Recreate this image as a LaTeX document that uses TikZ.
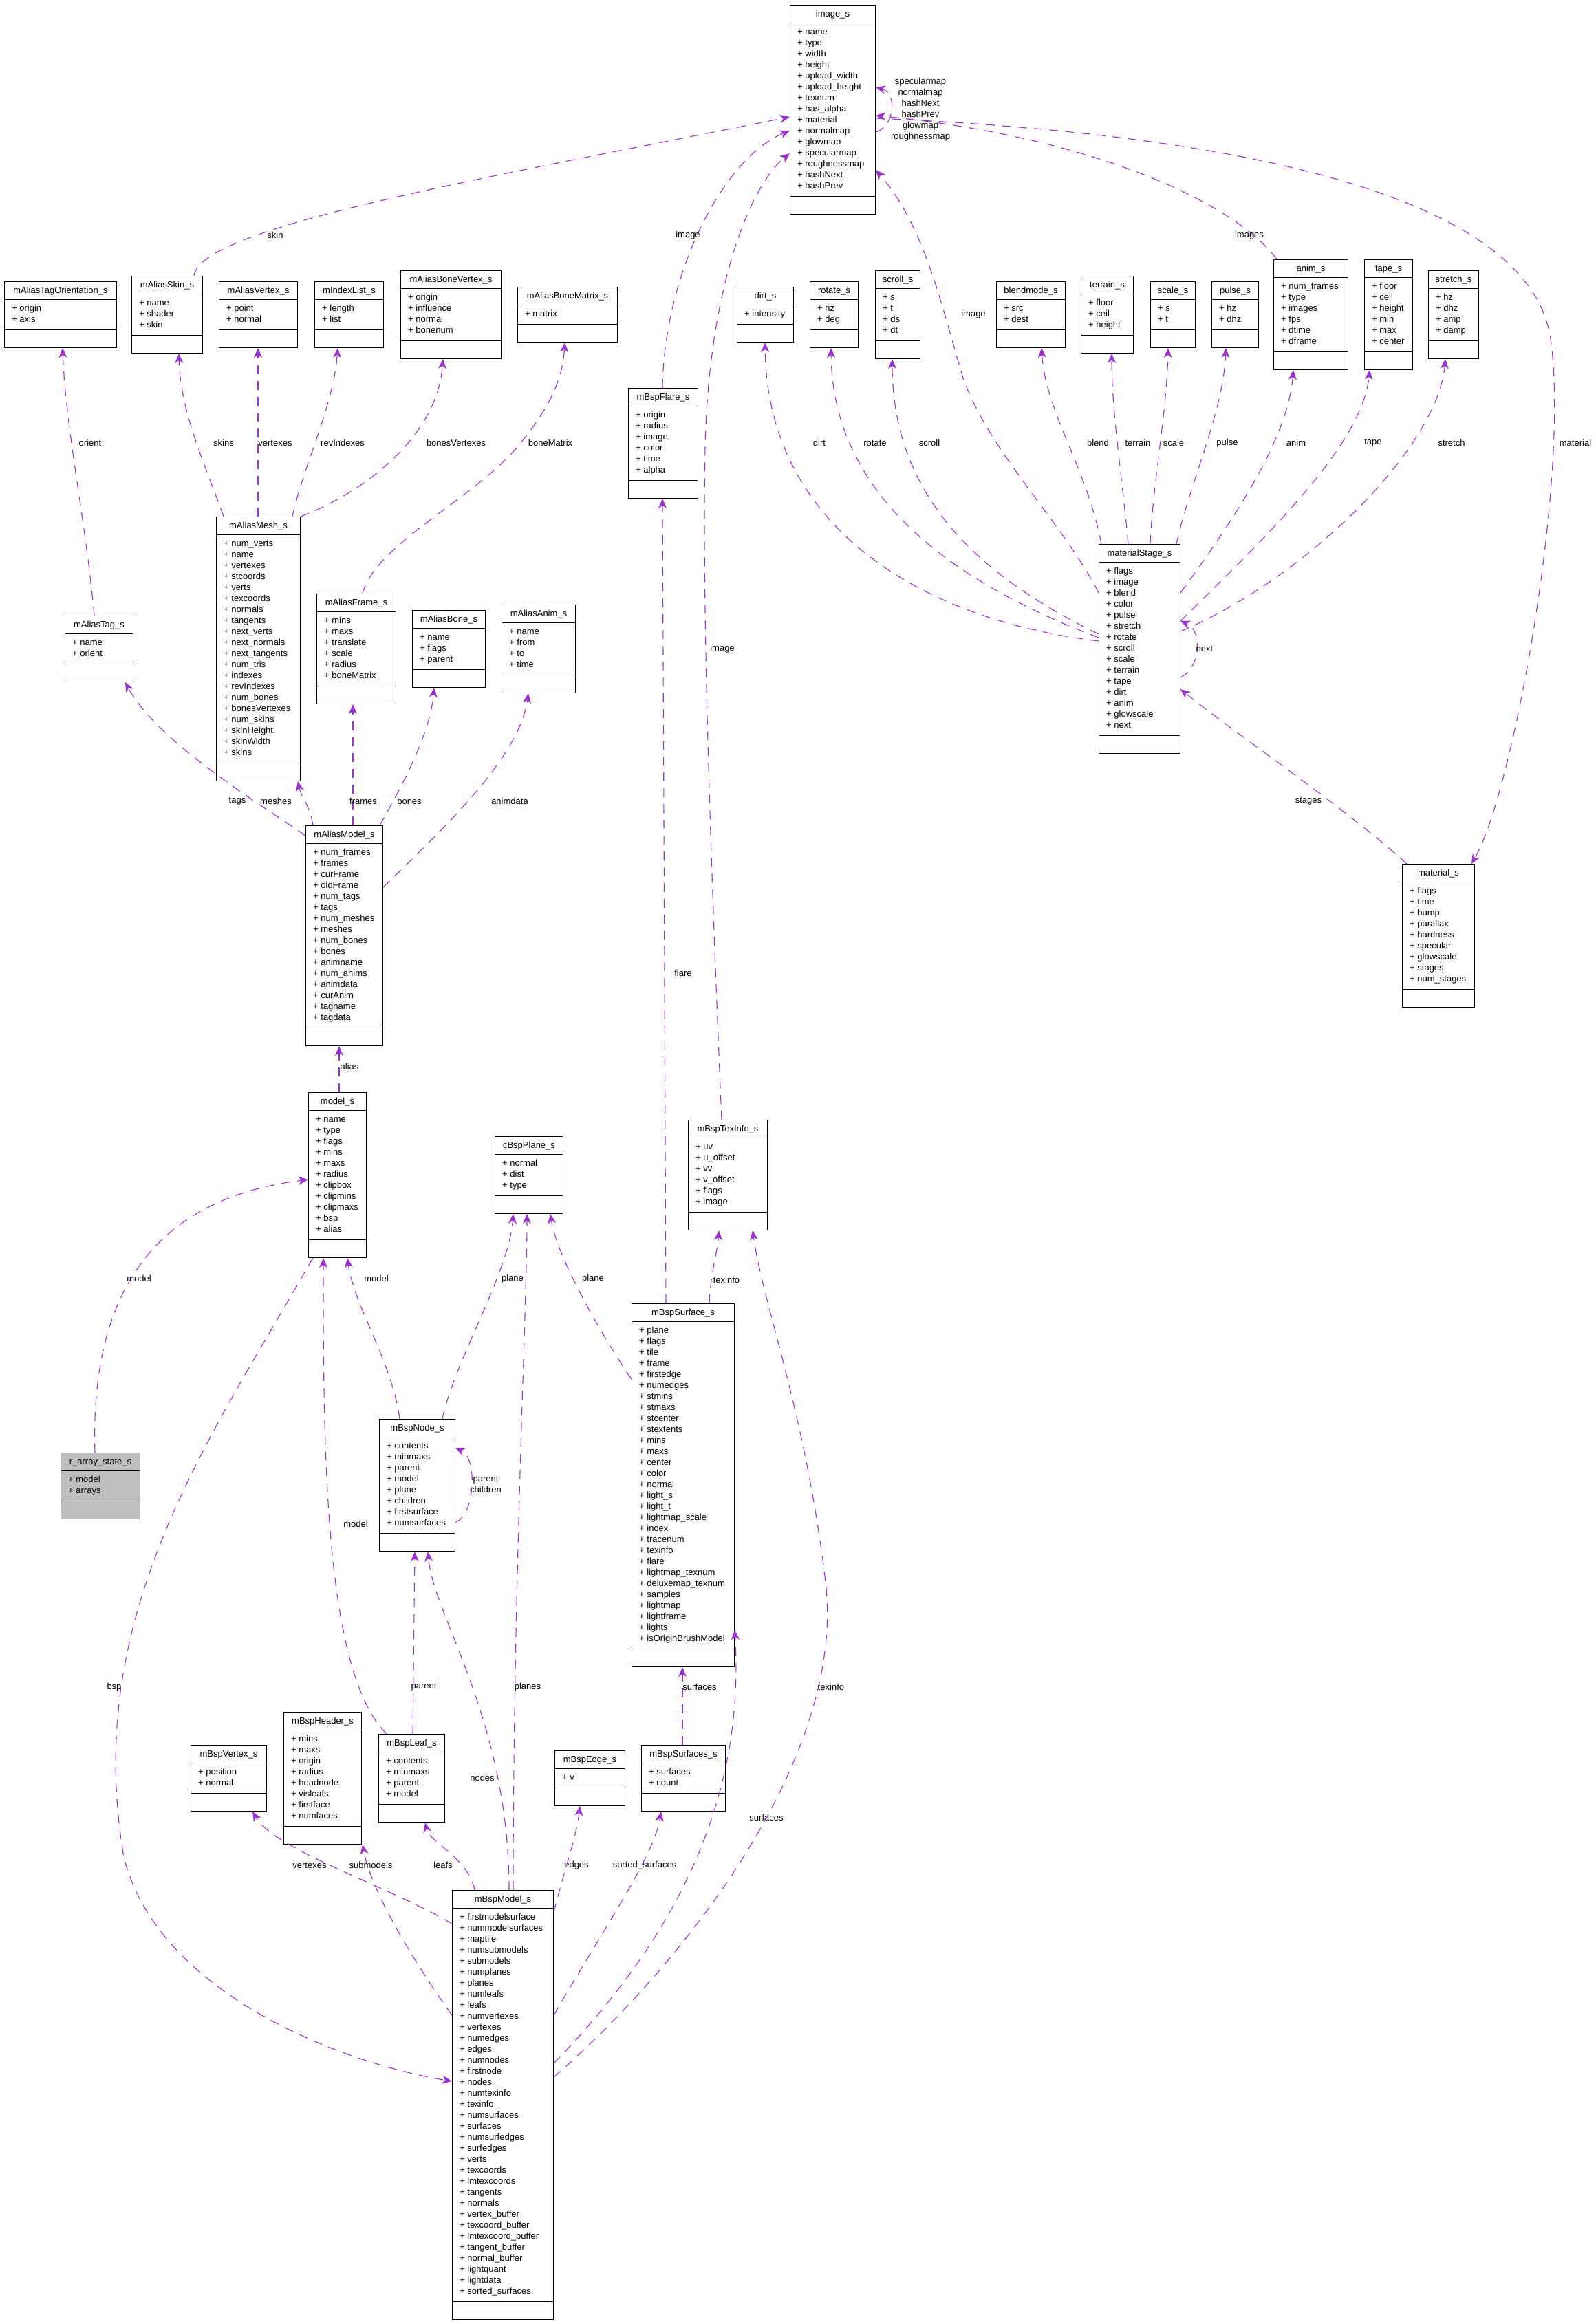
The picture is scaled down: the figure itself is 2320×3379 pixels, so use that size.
\documentclass[tikz,border=0pt]{standalone}
\usepackage{fontspec}
\setmainfont{Liberation Sans}
\usetikzlibrary{arrows.meta,calc}
\definecolor{edgecol}{HTML}{9A32CD}
\definecolor{grayfill}{HTML}{BFBFBF}
\tikzset{
  clsbox/.style={draw=black, line width=1pt, inner sep=0pt, anchor=north west},
  clsline/.style={draw=black, line width=1pt},
  txt/.style={inner sep=0pt, font=\fontsize{13}{16}\selectfont},
  lbl/.style={inner sep=0pt, align=center, font=\fontsize{13}{16}\selectfont},
  uses/.style={draw=edgecol, line width=1.1pt, dash pattern=on 13pt off 10pt,
    -{Stealth[length=14pt,width=12pt,inset=4pt]}},
}
% [fill]{id}{left}{top}{width}{n attrs}{title}{attrs}
\newcommand\umlclass[8][white]{%
  \node[clsbox, fill=#1, minimum width=#5pt, minimum height={(64+16*#6)*1pt}] (#2) at (#3,#4) {};
  \draw[clsline] ([shift={(0,26)}]#2.north west) -- ([shift={(0,26)}]#2.north east);
  \draw[clsline] ([shift={(0,-27)}]#2.south west) -- ([shift={(0,-27)}]#2.south east);
  \node[txt, anchor=base] at ([shift={(0,17.5)}]#2.north) {#7};
  \foreach \a [count=\i] in {#8} {\node[txt, anchor=base west] at ([shift={(11,{43.5+16*(\i-1)})}]#2.north west) {+ \a};}
}
\begin{document}
\begin{tikzpicture}[x=1pt,y=-1pt]
\useasboundingbox (0,0) rectangle (2320,3379);
\fill[white] (0,0) rectangle (2320,3379);

\umlclass{image}{1148}{7}{124}{15}{image\_s}{name,type,width,height,upload\_width,upload\_height,texnum,has\_alpha,material,normalmap,glowmap,specularmap,roughnessmap,hashNext,hashPrev}
\umlclass{tagorient}{6}{409}{163}{2}{mAliasTagOrientation\_s}{origin,axis}
\umlclass{askin}{191}{401}{103}{3}{mAliasSkin\_s}{name,shader,skin}
\umlclass{avertex}{318}{409}{114}{2}{mAliasVertex\_s}{point,normal}
\umlclass{indexlist}{457}{409}{100}{2}{mIndexList\_s}{length,list}
\umlclass{bonevertex}{582}{393}{146}{4}{mAliasBoneVertex\_s}{origin,influence,normal,bonenum}
\umlclass{bonematrix}{752}{417}{145}{1}{mAliasBoneMatrix\_s}{matrix}
\umlclass{dirt}{1071}{417}{82}{1}{dirt\_s}{intensity}
\umlclass{rotates}{1177}{409}{70}{2}{rotate\_s}{hz,deg}
\umlclass{scroll}{1272}{393}{65}{4}{scroll\_s}{s,t,ds,dt}
\umlclass{blendmode}{1448}{409}{100}{2}{blendmode\_s}{src,dest}
\umlclass{terrain}{1571}{401}{76}{3}{terrain\_s}{floor,ceil,height}
\umlclass{scales}{1672}{409}{65}{2}{scale\_s}{s,t}
\umlclass{pulse}{1761}{409}{68}{2}{pulse\_s}{hz,dhz}
\umlclass{anim}{1851}{377}{108}{6}{anim\_s}{num\_frames,type,images,fps,dtime,dframe}
\umlclass{tape}{1983}{377}{70}{6}{tape\_s}{floor,ceil,height,min,max,center}
\umlclass{stretch}{2076}{393}{73}{4}{stretch\_s}{hz,dhz,amp,damp}
\umlclass{flare}{913}{564}{101}{6}{mBspFlare\_s}{origin,radius,image,color,time,alpha}
\umlclass{mesh}{314}{751}{122}{20}{mAliasMesh\_s}{num\_verts,name,vertexes,stcoords,verts,texcoords,normals,tangents,next\_verts,next\_normals,next\_tangents,num\_tris,indexes,revIndexes,num\_bones,bonesVertexes,num\_skins,skinHeight,skinWidth,skins}
\umlclass{atag}{94}{895}{99}{2}{mAliasTag\_s}{name,orient}
\umlclass{aframe}{460}{863}{115}{6}{mAliasFrame\_s}{mins,maxs,translate,scale,radius,boneMatrix}
\umlclass{abone}{599}{887}{106}{3}{mAliasBone\_s}{name,flags,parent}
\umlclass{aanim}{729}{879}{107}{4}{mAliasAnim\_s}{name,from,to,time}
\umlclass{stage}{1597}{791}{118}{15}{materialStage\_s}{flags,image,blend,color,pulse,stretch,rotate,scroll,scale,terrain,tape,dirt,anim,glowscale,next}
\umlclass{amodel}{444}{1200}{112}{16}{mAliasModel\_s}{num\_frames,frames,curFrame,oldFrame,num\_tags,tags,num\_meshes,meshes,num\_bones,bones,animname,num\_anims,animdata,curAnim,tagname,tagdata}
\umlclass{material}{2038}{1256}{105}{9}{material\_s}{flags,time,bump,parallax,hardness,specular,glowscale,stages,num\_stages}
\umlclass{model}{448}{1588}{84}{11}{model\_s}{name,type,flags,mins,maxs,radius,clipbox,clipmins,clipmaxs,bsp,alias}
\umlclass{plane}{719}{1652}{99}{3}{cBspPlane\_s}{normal,dist,type}
\umlclass{texinfo}{1000}{1628}{115}{6}{mBspTexInfo\_s}{uv,u\_offset,vv,v\_offset,flags,image}
\umlclass{surface}{918}{1895}{149}{29}{mBspSurface\_s}{plane,flags,tile,frame,firstedge,numedges,stmins,stmaxs,stcenter,stextents,mins,maxs,center,color,normal,light\_s,light\_t,lightmap\_scale,index,tracenum,texinfo,flare,lightmap\_texnum,deluxemap\_texnum,samples,lightmap,lightframe,lights,isOriginBrushModel}
\umlclass[grayfill]{rarray}{88}{2112}{115}{2}{r\_array\_state\_s}{model,arrays}
\umlclass{bnode}{551}{2063}{110}{8}{mBspNode\_s}{contents,minmaxs,parent,model,plane,children,firstsurface,numsurfaces}
\umlclass{vertex}{277}{2537}{110}{2}{mBspVertex\_s}{position,normal}
\umlclass{header}{412}{2489}{113}{8}{mBspHeader\_s}{mins,maxs,origin,radius,headnode,visleafs,firstface,numfaces}
\umlclass{leaf}{550}{2521}{96}{4}{mBspLeaf\_s}{contents,minmaxs,parent,model}
\umlclass{bedge}{806}{2545}{102}{1}{mBspEdge\_s}{v}
\umlclass{surfaces}{932}{2537}{122}{2}{mBspSurfaces\_s}{surfaces,count}
\umlclass{bspmodel}{657}{2748}{147}{35}{mBspModel\_s}{firstmodelsurface,nummodelsurfaces,maptile,numsubmodels,submodels,numplanes,planes,numleafs,leafs,numvertexes,vertexes,numedges,edges,numnodes,firstnode,nodes,numtexinfo,texinfo,numsurfaces,surfaces,numsurfedges,surfedges,verts,texcoords,lmtexcoords,tangents,normals,vertex\_buffer,texcoord\_buffer,lmtexcoord\_buffer,tangent\_buffer,normal\_buffer,lightquant,lightdata,sorted\_surfaces}

% ---- edges to image_s
\draw[uses] (282,0 |- askin.north) .. controls (290,330) and (700,260) .. (image.west |- 0,170);
\node[lbl] at (400,342) {skin};
\draw[uses] (963,0 |- flare.north) .. controls (965,400) and (1050,230) .. (image.west |- 0,190);
\node[lbl] at (1000,342) {image};
\draw[uses] (1049,0 |- texinfo.north) .. controls (1035,1300) and (1020,900) .. (1025,650) .. controls (1030,420) and (1090,270) .. (image.west |- 0,223);
\node[lbl] at (1050,943) {image};
\draw[uses] (stage.west |- 0,862) .. controls (1545,760) and (1440,660) .. (1400,550) .. controls (1370,450) and (1345,330) .. (image.east |- 0,247);
\node[lbl] at (1415,457) {image};
\draw[uses] (1856,0 |- anim.north) .. controls (1800,300) and (1600,200) .. (image.east |- 0,168);
\node[lbl] at (1816,342) {images};
\draw[uses] (image.east |- 0,192) .. controls (1300,185) and (1305,135) .. (image.east |- 0,127);
\node[lbl] at (1338,159) {specularmap\\normalmap\\hashNext\\hashPrev\\glowmap\\roughnessmap};
\draw[uses] (image.east |- 0,172) .. controls (1700,190) and (2230,260) .. (2255,500) .. controls (2280,700) and (2200,1150) .. (2139,0 |- material.north);
\node[lbl] at (2290,644) {material};

% ---- alias row
\draw[uses] (137,0 |- atag.north) .. controls (125,760) and (95,620) .. (91,0 |- tagorient.south);
\node[lbl] at (131,644) {orient};
\draw[uses] (325,0 |- mesh.north) .. controls (300,680) and (262,600) .. (260,0 |- askin.south);
\node[lbl] at (325,644) {skins};
\draw[uses] (375,0 |- mesh.north) -- (375,0 |- avertex.south);
\node[lbl] at (400,644) {vertexes};
\draw[uses] (425,0 |- mesh.north) .. controls (440,680) and (485,590) .. (491,0 |- indexlist.south);
\node[lbl] at (498,644) {revIndexes};
\draw[uses] (mesh.north east) .. controls (520,720) and (635,640) .. (644,0 |- bonevertex.south);
\node[lbl] at (663,644) {bonesVertexes};
\draw[uses] (527,0 |- aframe.north) .. controls (545,790) and (700,720) .. (760,640) .. controls (800,590) and (818,550) .. (821,0 |- bonematrix.south);
\node[lbl] at (800,644) {boneMatrix};

% ---- materialStage edges
\draw[uses] (stage.west |- 0,932) .. controls (1330,900) and (1115,760) .. (1112,0 |- dirt.south);
\node[lbl] at (1191,644) {dirt};
\draw[uses] (stage.west |- 0,927) .. controls (1420,860) and (1210,740) .. (1208,0 |- rotates.south);
\node[lbl] at (1272,644) {rotate};
\draw[uses] (stage.west |- 0,922) .. controls (1450,850) and (1297,740) .. (1297,0 |- scroll.south);
\node[lbl] at (1351,644) {scroll};
\draw[uses] (1601,0 |- stage.north) .. controls (1580,680) and (1520,600) .. (1514,0 |- blendmode.south);
\node[lbl] at (1596,644) {blend};
\draw[uses] (1640,0 |- stage.north) .. controls (1632,700) and (1616,600) .. (1616,0 |- terrain.south);
\node[lbl] at (1654,644) {terrain};
\draw[uses] (1672,0 |- stage.north) .. controls (1676,700) and (1696,600) .. (1698,0 |- scales.south);
\node[lbl] at (1706,644) {scale};
\draw[uses] (1710,0 |- stage.north) .. controls (1730,700) and (1778,600) .. (1782,0 |- pulse.south);
\node[lbl] at (1784,644) {pulse};
\draw[uses] (stage.east |- 0,862) .. controls (1790,760) and (1872,640) .. (1880,0 |- anim.south);
\node[lbl] at (1884,644) {anim};
\draw[uses] (stage.east |- 0,903) .. controls (1830,790) and (1980,650) .. (1991,0 |- tape.south);
\node[lbl] at (1996,644) {tape};
\draw[uses] (stage.east |- 0,918) .. controls (1900,840) and (2090,650) .. (2101,0 |- stretch.south);
\node[lbl] at (2110,644) {stretch};
\draw[uses] (stage.east |- 0,985) .. controls (1747,970) and (1747,915) .. (stage.east |- 0,903);
\node[lbl] at (1751,943) {next};
\draw[uses] (2045,0 |- material.north) .. controls (1950,1170) and (1800,1070) .. (stage.east |- 0,1002);
\node[lbl] at (1902,1165) {stages};

% ---- mAliasModel edges
\draw[uses] (amodel.west |- 0,1215) .. controls (380,1170) and (230,1080) .. (182,0 |- atag.south);
\node[lbl] at (345,1165) {tags};
\draw[uses] (455,0 |- amodel.north) .. controls (450,1170) and (438,1160) .. (433,0 |- mesh.south);
\node[lbl] at (401,1165) {meshes};
\draw[uses] (513,0 |- amodel.north) -- (513,0 |- aframe.south);
\node[lbl] at (528,1165) {frames};
\draw[uses] (552,0 |- amodel.north) .. controls (580,1150) and (625,1070) .. (631,0 |- abone.south);
\node[lbl] at (595,1165) {bones};
\draw[uses] (amodel.east |- 0,1290) .. controls (650,1200) and (755,1100) .. (768,0 |- aanim.south);
\node[lbl] at (741,1165) {animdata};

% ---- model_s
\draw[uses] (493,0 |- model.north) -- (493,0 |- amodel.south);
\node[lbl] at (508,1551) {alias};
\draw[uses] (138,0 |- rarray.north) .. controls (130,1850) and (250,1740) .. (model.west |- 0,1715);
\node[lbl] at (202,1859) {model};
\draw[uses] (581,0 |- bnode.north) .. controls (570,1980) and (515,1900) .. (505,0 |- model.south);
\node[lbl] at (547,1859) {model};
\draw[uses] (562,0 |- leaf.north) .. controls (470,2430) and (470,2100) .. (470,0 |- model.south);
\node[lbl] at (517,2216) {model};
\draw[uses] (600,0 |- leaf.north) -- (603,0 |- bnode.south);
\node[lbl] at (616,2453) {parent};
\draw[uses] (bnode.east |- 0,2213) .. controls (690,2205) and (695,2120) .. (bnode.east |- 0,2105);
\node[lbl] at (706,2158) {parent\\children};
\draw[uses] (643,0 |- bnode.north) .. controls (660,1980) and (740,1850) .. (746,0 |- plane.south);
\node[lbl] at (745,1859) {plane};
\draw[uses] (surface.west |- 0,2005) .. controls (880,1950) and (810,1830) .. (800,0 |- plane.south);
\node[lbl] at (862,1859) {plane};
\draw[uses] (1031,0 |- surface.north) .. controls (1033,1850) and (1043,1820) .. (1045,0 |- texinfo.south);
\node[lbl] at (1056,1861) {texinfo};
\draw[uses] (968,0 |- surface.north) -- (963,0 |- flare.south);
\node[lbl] at (993,1415) {flare};
\draw[uses] (992,0 |- surfaces.north) -- (992,0 |- surface.south);
\node[lbl] at (1017,2453) {surfaces};

% ---- mBspModel edges
\draw[uses] (bspmodel.west |- 0,2797) .. controls (560,2740) and (400,2690) .. (367,0 |- vertex.south);
\node[lbl] at (450,2712) {vertexes};
\draw[uses] (bspmodel.west |- 0,2930) .. controls (600,2850) and (540,2750) .. (527,0 |- header.south);
\node[lbl] at (539,2712) {submodels};
\draw[uses] (690,0 |- bspmodel.north) .. controls (680,2700) and (625,2680) .. (618,0 |- leaf.south);
\node[lbl] at (644,2712) {leafs};
\draw[uses] (740,0 |- bspmodel.north) .. controls (740,2500) and (630,2350) .. (622,0 |- bnode.south);
\node[lbl] at (701,2585) {nodes};
\draw[uses] (746,0 |- bspmodel.north) .. controls (746,2300) and (766,1900) .. (766,0 |- plane.south);
\node[lbl] at (767,2453) {planes};
\draw[uses] (bspmodel.east |- 0,2780) .. controls (820,2720) and (838,2670) .. (843,0 |- bedge.south);
\node[lbl] at (838,2712) {edges};
\draw[uses] (bspmodel.east |- 0,2930) .. controls (880,2800) and (950,2700) .. (961,0 |- surfaces.south);
\node[lbl] at (937,2712) {sorted\_surfaces};
\draw[uses] (bspmodel.east |- 0,3000) .. controls (950,2850) and (1085,2650) .. (surface.east |- 0,2370);
\node[lbl] at (1114,2643) {surfaces};
\draw[uses] (bspmodel.east |- 0,3020) .. controls (1000,2850) and (1230,2550) .. (1200,2300) .. controls (1170,2050) and (1110,1900) .. (1094,0 |- texinfo.south);
\node[lbl] at (1208,2453) {texinfo};
\draw[uses] (455,0 |- model.south) .. controls (300,2100) and (120,2350) .. (180,2700) .. controls (230,2900) and (500,3000) .. (bspmodel.west |- 0,3026);
\node[lbl] at (166,2453) {bsp};
\end{tikzpicture}
\end{document}
